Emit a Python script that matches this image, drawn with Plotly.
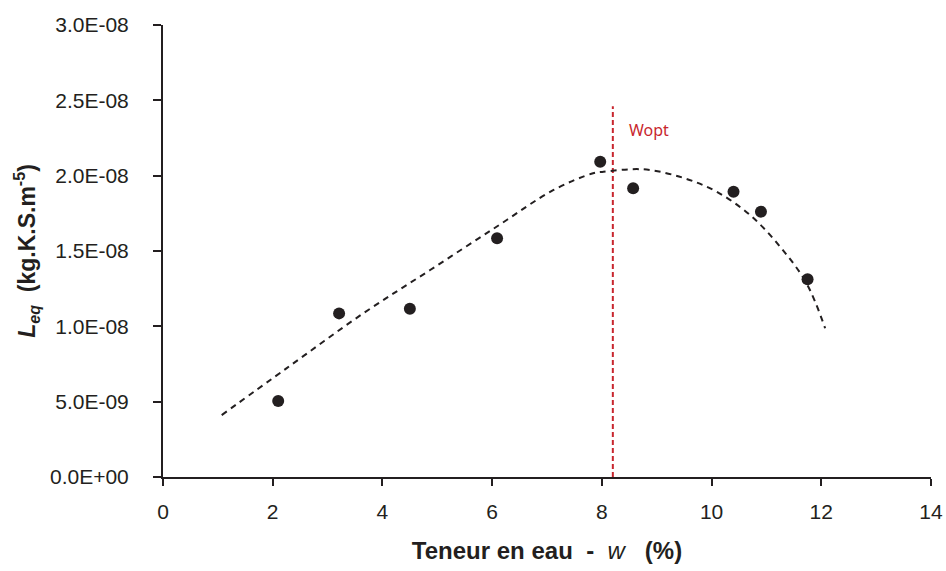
import plotly.graph_objects as go

# Measured points
w_meas = [2.10, 3.21, 4.50, 6.09, 7.97, 8.57, 10.40, 10.90, 11.75]
leq_meas = [5.05e-9, 1.086e-8, 1.116e-8, 1.585e-8, 2.093e-8, 1.916e-8, 1.894e-8, 1.761e-8, 1.312e-8]

# Trend curve
w_fit = [1.07, 2.25, 3.65, 4.87, 6.08, 7.12, 7.84, 8.03, 8.76, 9.48, 10.09, 10.70, 11.25, 11.73, 12.07]
leq_fit = [4.11e-9, 7.21e-9, 1.086e-8, 1.374e-8, 1.661e-8, 1.905e-8, 2.016e-8, 2.026e-8,
           2.042e-8, 1.986e-8, 1.894e-8, 1.739e-8, 1.528e-8, 1.286e-8, 9.87e-9]

# Optimum water content line
w_opt = [8.2, 8.2]
leq_opt = [0.0, 2.46e-8]

x_ticks = [0, 2, 4, 6, 8, 10, 12, 14]
y_ticks = [0, 5e-9, 1e-8, 1.5e-8, 2e-8, 2.5e-8, 3e-8]
y_ticktext = ["0.0E+00", "5.0E-09", "1.0E-08", "1.5E-08", "2.0E-08", "2.5E-08", "3.0E-08"]

INK = "#231f20"

fig = go.Figure()
fig.add_trace(go.Scatter(x=w_opt, y=leq_opt, mode="lines",
                         line=dict(color="#c8262e", width=2, dash="5px,3px"),
                         showlegend=False, hoverinfo="skip"))
fig.add_trace(go.Scatter(x=w_fit, y=leq_fit, mode="lines",
                         line=dict(color=INK, width=2, dash="6px,5px", shape="spline"),
                         showlegend=False))
fig.add_trace(go.Scatter(x=w_meas, y=leq_meas, mode="markers",
                         marker=dict(color=INK, size=12),
                         showlegend=False))

fig.add_annotation(x=8.46, y=2.30e-8, text="Wopt", showarrow=False,
                   xanchor="left", yanchor="middle",
                   font=dict(family="Noto Sans", size=16, color="#c8262e"))

fig.update_layout(
    width=946, height=571,
    margin=dict(l=163, r=15, t=25, b=94, autoexpand=False),
    paper_bgcolor="white", plot_bgcolor="white",
    font=dict(family="Arial", size=21, color=INK),
    xaxis=dict(range=[0, 14], tickvals=x_ticks, showgrid=False, zeroline=False,
               showline=True, linecolor=INK, linewidth=2, automargin=False,
               ticks="outside", ticklen=7, tickwidth=2, tickcolor=INK,
               ticklabelstandoff=8,
               tickfont=dict(family="Arial", size=21, color=INK),
               title=dict(text="<b>Teneur en eau  -  </b><i>w</i><b>   (%)</b>", standoff=20,
                          font=dict(family="Arial", size=24, color=INK))),
    yaxis=dict(range=[0, 3e-8], tickvals=y_ticks, ticktext=y_ticktext, showgrid=False,
               zeroline=False, showline=True, linecolor=INK, linewidth=2, automargin=False,
               ticks="outside", ticklen=8, tickwidth=2, tickcolor=INK,
               ticklabelstandoff=20,
               tickfont=dict(family="Arial", size=21, color=INK),
               title=dict(text="<b><i>L</i><sub><i>eq</i></sub>  (kg.K.S.m<sup>-5</sup>)</b>",
                          standoff=8,
                          font=dict(family="Arial", size=23, color=INK))),
)

# remove the default page margin so the figure fills the window exactly
fig.write_html("out.html", config={"displayModeBar": False},
               post_script="document.body.style.margin='0';document.body.style.overflow='hidden';")
